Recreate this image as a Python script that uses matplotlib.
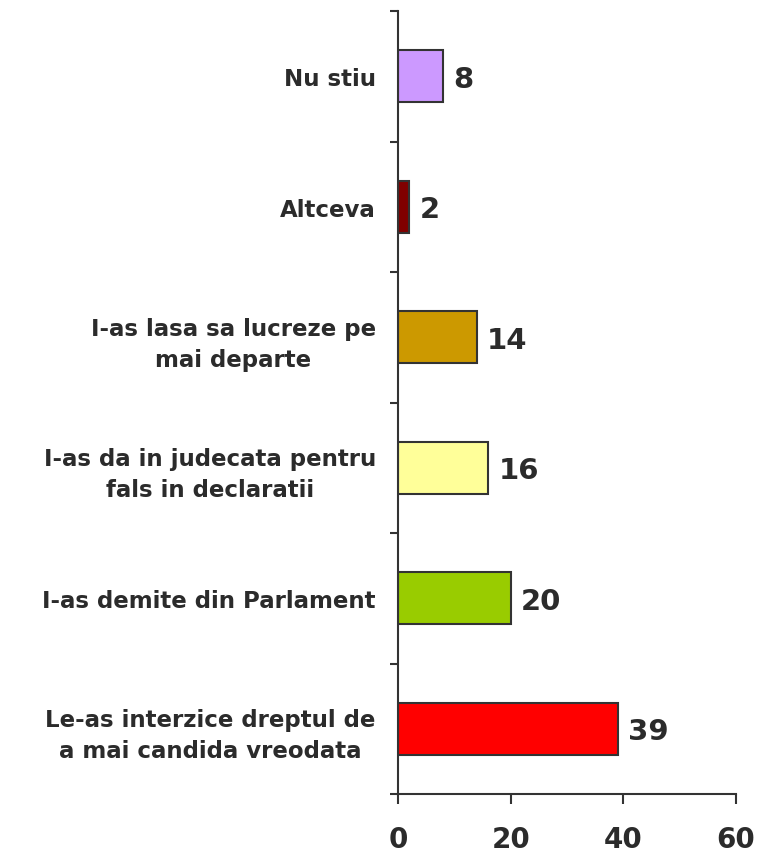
import numpy as np
import matplotlib.pyplot as plt

# data, bottom to top
categories = [
    "Le-as interzice dreptul de\na mai candida vreodata",
    "I-as demite din Parlament",
    "I-as da in judecata pentru\nfals in declaratii",
    "I-as lasa sa lucreze pe\nmai departe",
    "Altceva",
    "Nu stiu",
]
values = [39, 20, 16, 14, 2, 8]
colors = ["#FF0000", "#99CC00", "#FFFF99", "#CC9900", "#800000", "#CC99FF"]
xticks = [0, 20, 40, 60]

txt = "#2b2b2b"
plt.rcParams['font.family'] = ['DejaVu Sans']
plt.rcParams['font.weight'] = 'bold'

fig = plt.figure(figsize=(7.59, 8.54), dpi=100)
ax = fig.add_axes([398 / 759, 1 - 795 / 854, (736 - 398) / 759, (795 - 12) / 854])

y = np.arange(len(categories))
ax.barh(y, values, height=0.395, color=colors, edgecolor="#333333", linewidth=1.5)

for yi, v in zip(y, values):
    ax.text(v + 1.8, yi - 0.02, str(v), va="center", ha="left",
            fontsize=21, fontweight="bold", color=txt)

ax.set_xlim(0, 60)
ax.set_ylim(-0.5, len(categories) - 0.5)

ax.set_xticks(xticks)
ax.set_xticklabels([str(t) for t in xticks], fontsize=20, fontweight="bold", color=txt)
ax.tick_params(axis="x", direction="out", length=7.5, width=1.5, color="#333333", pad=15)

ax.set_yticks(y)
ax.set_yticklabels(categories, fontsize=16.5, fontweight="bold", color=txt, linespacing=1.45)
for lab in ax.get_yticklabels():
    lab.set_multialignment("center")
ax.tick_params(axis="y", which="major", length=0, pad=16)
ax.set_yticks(np.arange(-0.5, len(categories), 1), minor=True)
ax.tick_params(axis="y", which="minor", direction="out", length=6, width=1.5, color="#333333")

ax.spines["top"].set_visible(False)
ax.spines["right"].set_visible(False)
for s in ["left", "bottom"]:
    ax.spines[s].set_color("#333333")
    ax.spines[s].set_linewidth(1.5)

fig.savefig("out.png", dpi=100)
